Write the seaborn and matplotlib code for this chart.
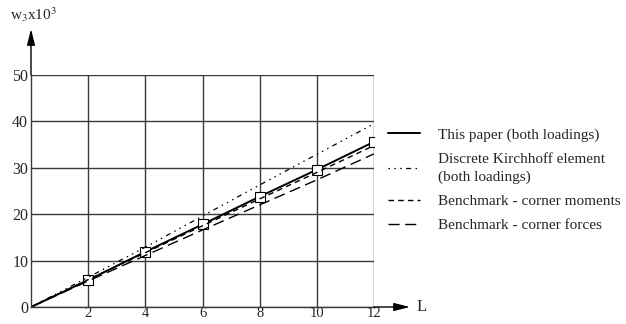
import matplotlib
matplotlib.use('Agg')
import matplotlib.pyplot as plt
import seaborn as sns
import pandas as pd

# values
L = [0, 2, 4, 6, 8, 10, 12]
this_paper = [0, 5.8, 11.9, 17.8, 23.8, 29.6, 35.6]
kirchhoff = [0, 6.4, 12.9, 19.6, 26.3, 32.9, 39.5]
corner_moments = [0, 5.9, 11.7, 17.5, 23.3, 29.0, 34.8]
corner_forces = [0, 5.6, 11.1, 16.6, 22.0, 27.4, 33.0]

labels = ['This paper (both loadings)',
          'Discrete Kirchhoff element\n(both loadings)',
          'Benchmark - corner moments',
          'Benchmark - corner forces']
x_ticks = [2, 4, 6, 8, 10, 12]
y_ticks = [0, 10, 20, 30, 40, 50]

sns.set_style('white')
plt.rcParams['font.family'] = ['Liberation Serif', 'DejaVu Serif']
plt.rcParams['mathtext.fontset'] = 'stix'

W, H = 626, 324
y0, y50 = 307, 75  # pixel rows of 0 and 50
fig = plt.figure(figsize=(W / 100, H / 100), dpi=100)
ax = fig.add_axes([31 / W, (H - y0) / H, (374 - 31) / W, (y0 - y50) / H])

df = pd.DataFrame({'L': L, 'a': this_paper, 'b': kirchhoff,
                   'c': corner_moments, 'd': corner_forces})

sns.lineplot(data=df, x='L', y='a', ax=ax, color='black', lw=1.4,
             marker='s', markersize=7, markerfacecolor='white',
             markeredgecolor='black', markeredgewidth=0.8,
             markevery=list(range(1, len(L))), label=labels[0])
sns.lineplot(data=df, x='L', y='b', ax=ax, color='black', lw=0.9,
             label=labels[1])
ax.lines[-1].set_dashes([1.2, 3.5, 1.2, 3.5, 1.2, 3.5, 4, 3.5])
sns.lineplot(data=df, x='L', y='c', ax=ax, color='black', lw=1.0,
             label=labels[2])
ax.lines[-1].set_dashes([4, 3])
sns.lineplot(data=df, x='L', y='d', ax=ax, color='black', lw=1.0,
             label=labels[3])
ax.lines[-1].set_dashes([8, 4])

ax.set_xlim(0, 12)
ax.set_ylim(0, 50)
ax.set_xticks(x_ticks)
ax.set_yticks(y_ticks)
ax.set_xlabel('')
ax.set_ylabel('')
ax.grid(True, color='#3a3a3a', lw=1.0)
ax.tick_params(length=0, labelsize=11.5)
ax.tick_params(axis='x', pad=0, labelsize=10.5)
ax.tick_params(axis='y', pad=2)
for s in ['top', 'right']:
    ax.spines[s].set_visible(False)
for s in ['left', 'bottom']:
    ax.spines[s].set_color('#3a3a3a')
    ax.spines[s].set_linewidth(1.0)

# axis arrows
arrow = dict(arrowstyle='-|>,head_length=0.8,head_width=0.2',
             mutation_scale=12, color='black', lw=1.0, shrinkA=0, shrinkB=0)
ax.annotate('', xy=(0, (y0 - 29) / (y0 - y50)), xytext=(0, 1),
            xycoords='axes fraction', arrowprops=arrow, annotation_clip=False)
ax.annotate('', xy=((410 - 31) / 343, 0), xytext=(1, 0),
            xycoords='axes fraction', arrowprops=arrow, annotation_clip=False)
fig.text(417 / W, 1 - y0 / H, 'L', fontsize=12, va='center', ha='left')
fig.text(10 / W, 1 - 15 / H, r'w$_3$x10$^3$', fontsize=11, va='center', ha='left')

leg = ax.legend(loc='upper left', bbox_to_anchor=(388 / W, 1 - 128 / H),
                bbox_transform=fig.transFigure, frameon=False, fontsize=11,
                borderpad=0, borderaxespad=0, handlelength=2.1,
                handletextpad=1.2, labelspacing=0.7)
leg.legend_handles[0].set_marker('None')
leg.get_texts()[1].set_linespacing(1.45)

fig.savefig('out.png', dpi=100)
